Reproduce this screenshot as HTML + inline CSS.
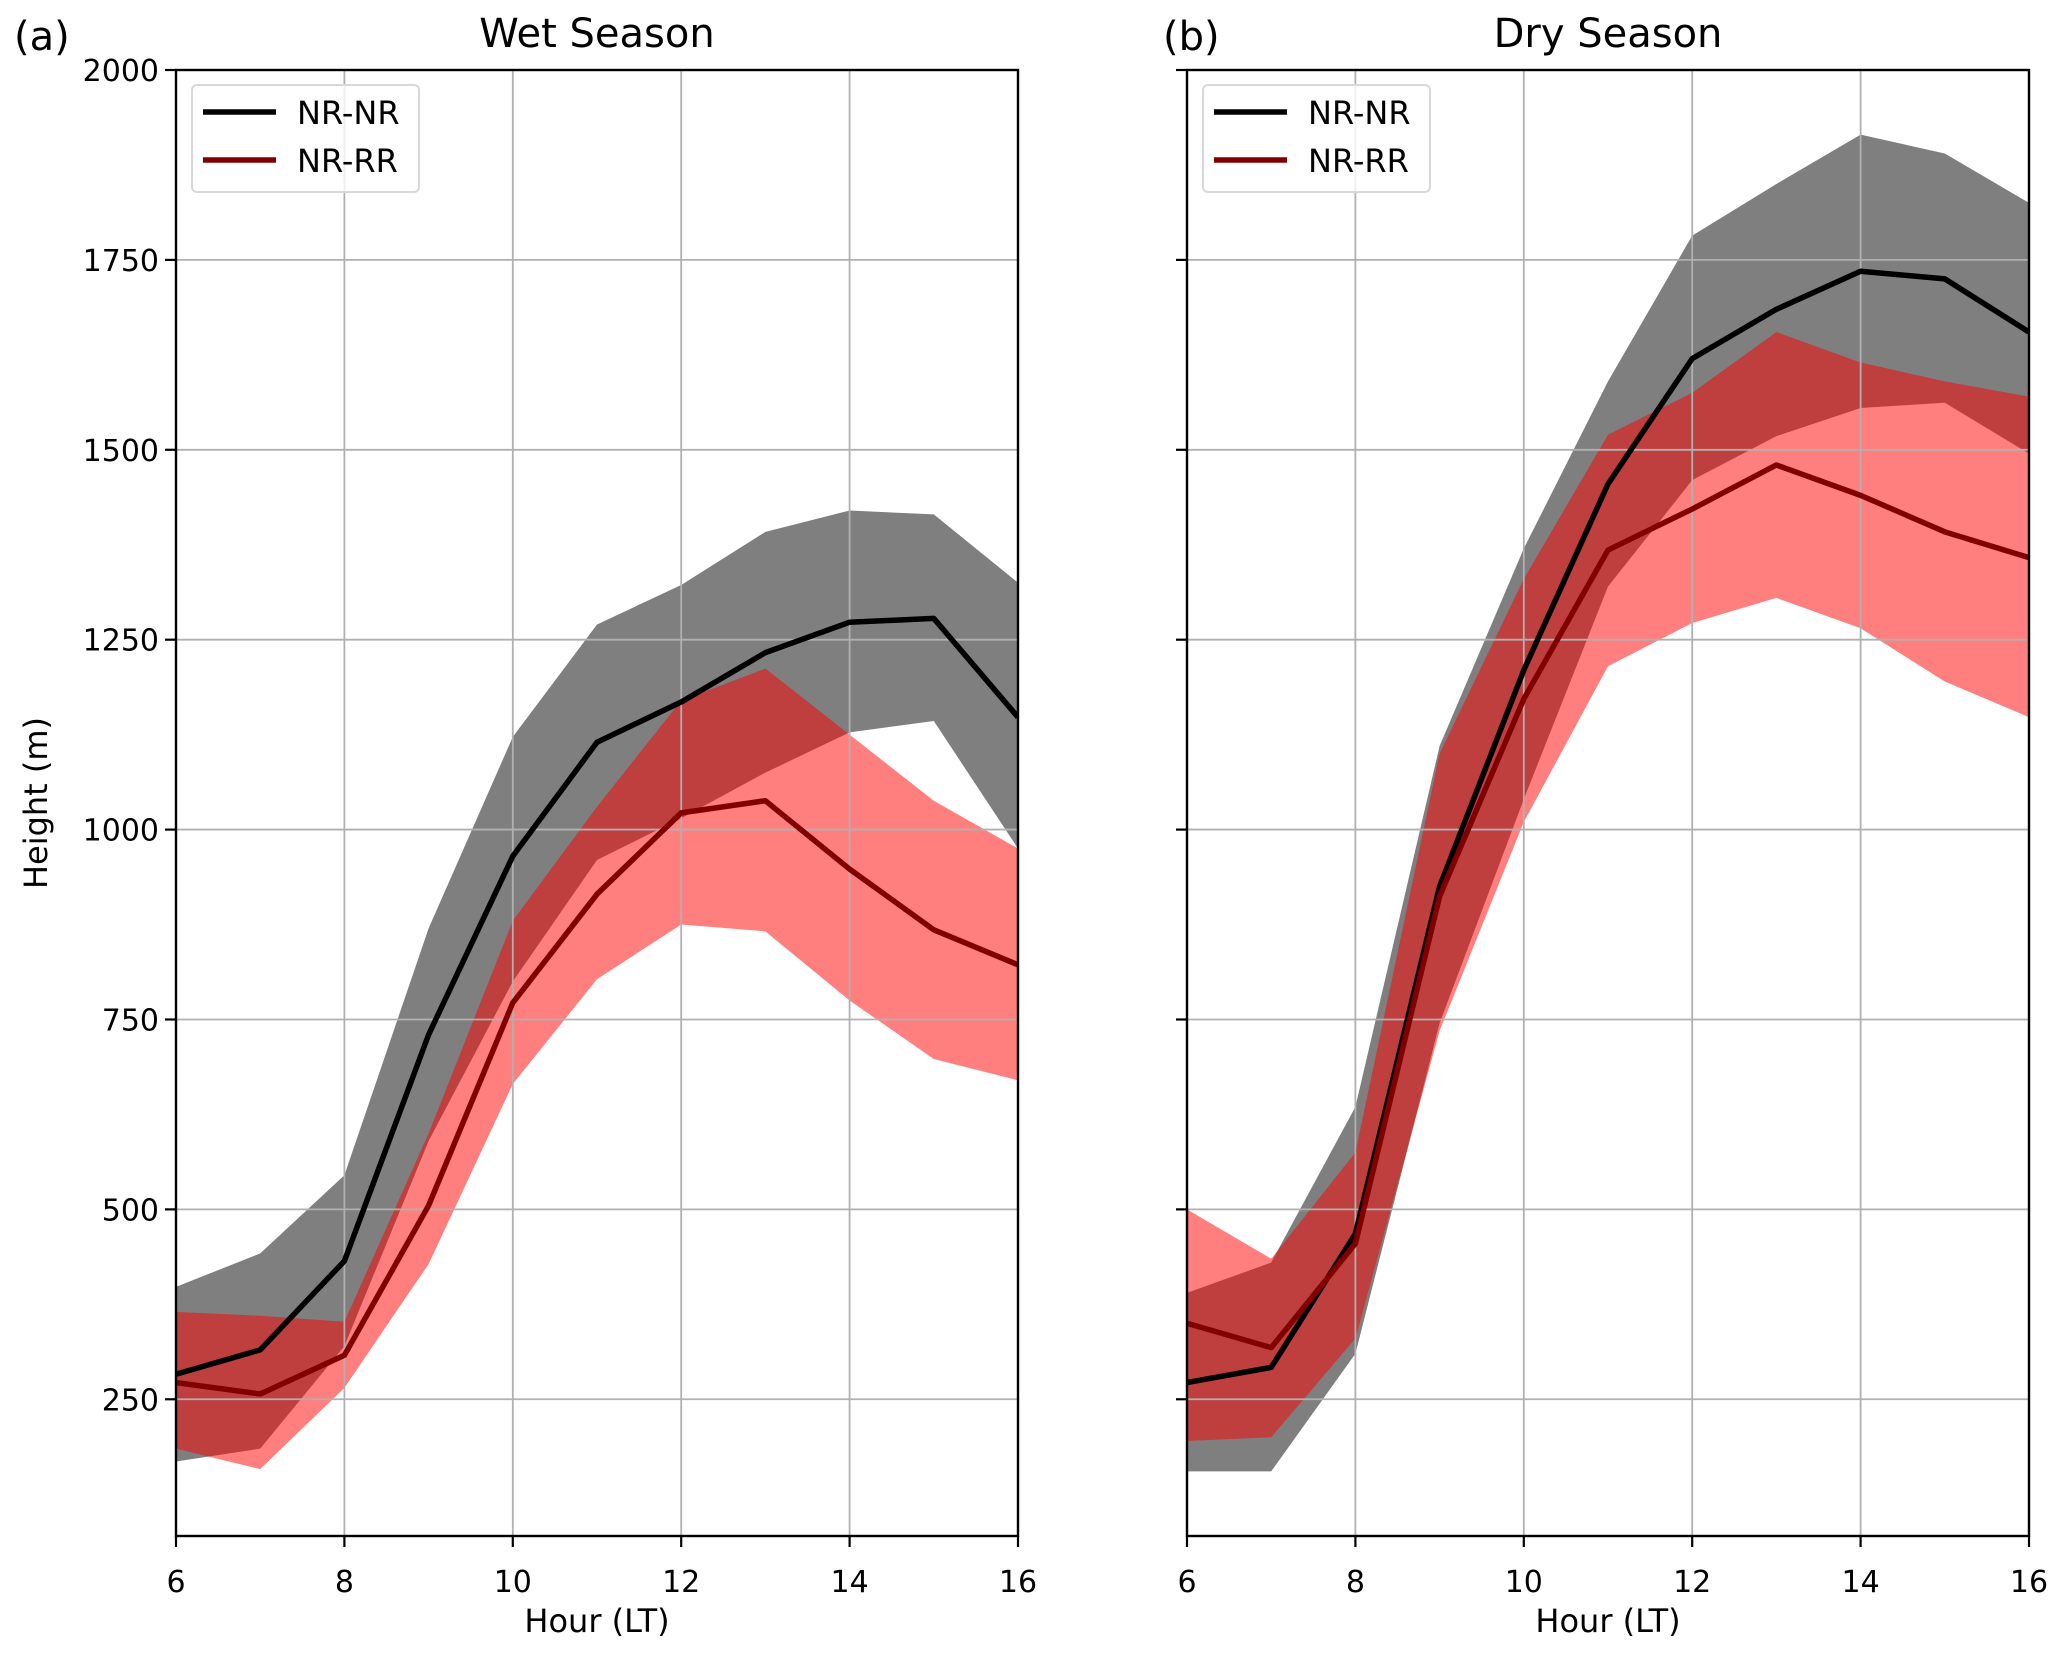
<!DOCTYPE html>
<html><head><meta charset="utf-8"><style>
body{margin:0;background:#fff}
svg text{font-family:"DejaVu Sans","Liberation Sans",sans-serif;fill:#000}
</style></head><body>
<svg id="chart" width="2067" height="1660" xmlns="http://www.w3.org/2000/svg"></svg>
<script>
const hours=[6,7,8,9,10,11,12,13,14,15,16];
const xTicks=[6,8,10,12,14,16];
const yTicks=[250,500,750,1000,1250,1500,1750,2000];
const wetNRNR=[283,315,432,730,965,1115,1168,1233,1273,1278,1148];
const wetNRNRHi=[398,442,545,870,1122,1270,1322,1392,1420,1415,1325];
const wetNRNRLo=[168,185,320,590,800,960,1015,1075,1128,1143,975];
const wetNRRR=[272,257,308,505,772,915,1022,1038,948,868,822];
const wetNRRRHi=[365,360,352,600,880,1030,1170,1212,1125,1038,975];
const wetNRRRLo=[185,158,265,428,665,803,875,866,775,698,670];
const dryNRNR=[272,292,468,925,1210,1455,1620,1685,1735,1725,1655];
const dryNRNRHi=[390,430,635,1110,1370,1590,1782,1850,1915,1890,1825];
const dryNRNRLo=[155,155,310,745,1040,1320,1460,1518,1555,1562,1495];
const dryNRRR=[350,318,455,912,1172,1368,1422,1480,1440,1392,1358];
const dryNRRRHi=[500,435,575,1100,1330,1520,1575,1655,1615,1590,1570];
const dryNRRRLo=[195,200,330,735,1010,1215,1272,1305,1265,1195,1148];

const NS="http://www.w3.org/2000/svg";
const svg=document.getElementById('chart');
function mk(tag,attrs,parent){const e=document.createElementNS(NS,tag);for(const k in attrs)e.setAttribute(k,attrs[k]);(parent||svg).appendChild(e);return e;}
const Y0=70,Y1=1536,YMIN=70,YMAX=2000;
function yS(v){return Y1-(v-YMIN)/(YMAX-YMIN)*(Y1-Y0);}

function panel(x0,x1,letter,letterX,title,nrnr,nrnrHi,nrnrLo,nrrr,nrrrHi,nrrrLo,showY,key){
  const xS=h=>x0+(h-6)/10*(x1-x0);
  const g=mk('g',{});
  
  
  const clipId='clip'+key;
  const cp=mk('clipPath',{id:clipId},g);mk('rect',{x:x0,y:Y0,width:x1-x0,height:Y1-Y0},cp);
  const band=(hi,lo,fill,name)=>{
    let d='M'+hours.map((h,i)=>xS(h)+','+yS(hi[i])).join('L');
    d+='L'+hours.slice().reverse().map((h,j)=>{const i=hours.length-1-j;return xS(h)+','+yS(lo[i]);}).join('L')+'Z';
    const p=mk('path',{d:d,fill:fill,'clip-path':'url(#'+clipId+')'},g);
    
    
  };
  band(nrnrHi,nrnrLo,'rgba(0,0,0,0.5)',key+'-nrnr-band');
  band(nrrrHi,nrrrLo,'rgba(255,0,0,0.5)',key+'-nrrr-band');
  xTicks.forEach(t=>{const l=mk('line',{x1:xS(t),x2:xS(t),y1:Y0,y2:Y1,stroke:'#b0b0b0','stroke-width':1.8},g);
    
    mk('line',{x1:xS(t),x2:xS(t),y1:Y1,y2:Y1+11,stroke:'#000','stroke-width':2.2},g);
    const tx=mk('text',{x:xS(t),y:1592,'font-size':30,'text-anchor':'middle'},g);tx.textContent=t;
    });
  yTicks.forEach(t=>{const l=mk('line',{x1:x0,x2:x1,y1:yS(t),y2:yS(t),stroke:'#b0b0b0','stroke-width':1.8},g);
    
    mk('line',{x1:x0-11,x2:x0,y1:yS(t),y2:yS(t),stroke:'#000','stroke-width':2.2},g);
    if(showY){const tx=mk('text',{x:x0-17,y:yS(t)+11,'font-size':30,'text-anchor':'end'},g);tx.textContent=t;
      }});
  const line=(arr,col,name)=>{const p=mk('polyline',{points:hours.map((h,i)=>xS(h)+','+yS(arr[i])).join(' '),fill:'none',stroke:col,'stroke-width':5.5,'stroke-linejoin':'round','clip-path':'url(#'+clipId+')'},g);
    };
  line(nrnr,'#000',key+'-nrnr-line');
  line(nrrr,'#800000',key+'-nrrr-line');
  const fr=mk('rect',{x:x0,y:Y0,width:x1-x0,height:Y1-Y0,fill:'none',stroke:'#000','stroke-width':2.4},g);
  
  const lg=mk('g',{},g);
  
  const lx=x0+16;
  mk('rect',{x:lx,y:85,width:227,height:107,rx:5,fill:'rgba(255,255,255,0.8)',stroke:'#d8d8d8','stroke-width':2},lg);
  [['NR-NR','#000',112],['NR-RR','#800000',160]].forEach(([lab,col,yy])=>{
    const e=mk('g',{},lg);
    
    mk('line',{x1:lx+11,x2:lx+84,y1:yy,y2:yy,stroke:col,'stroke-width':5.5},e);
    const t=mk('text',{x:lx+105,y:yy+12,'font-size':32},e);t.textContent=lab;});
  const tt=mk('text',{x:(x0+x1)/2,y:47,'font-size':40,'text-anchor':'middle'},g);tt.textContent=title;
  
  const pl=mk('text',{x:letterX,y:50,'font-size':40},g);pl.textContent=letter;
  
  const xl=mk('text',{x:(x0+x1)/2,y:1632,'font-size':32,'text-anchor':'middle'},g);xl.textContent='Hour (LT)';
  
  if(showY){const yl=mk('text',{x:0,y:0,'font-size':32,'text-anchor':'middle',transform:'translate(47,'+((Y0+Y1)/2)+') rotate(-90)'},g);yl.textContent='Height (m)';
    }
}
panel(176,1018,'(a)',14,'Wet Season',wetNRNR,wetNRNRHi,wetNRNRLo,wetNRRR,wetNRRRHi,wetNRRRLo,true,'wet');
panel(1187,2029,'(b)',1163,'Dry Season',dryNRNR,dryNRNRHi,dryNRNRLo,dryNRRR,dryNRRRHi,dryNRRRLo,false,'dry');
</script>
</body></html>
